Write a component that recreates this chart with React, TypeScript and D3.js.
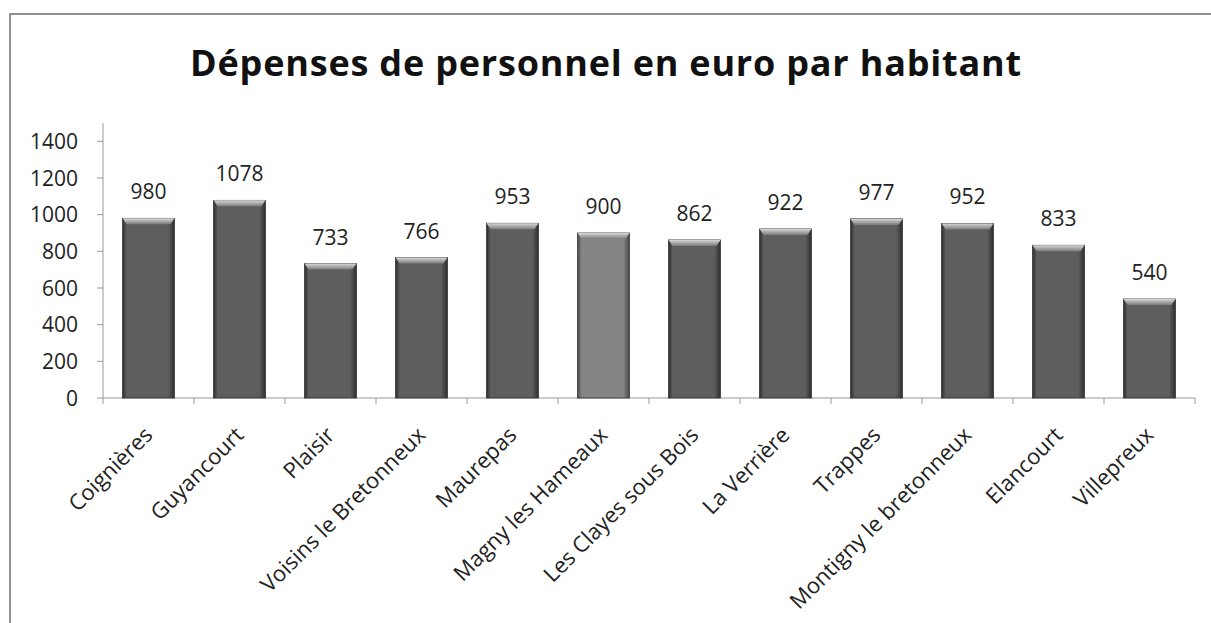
import { useEffect, useRef } from 'react';
import * as d3 from 'd3';

const communes = [
  'Coignières', 'Guyancourt', 'Plaisir', 'Voisins le Bretonneux', 'Maurepas',
  'Magny les Hameaux', 'Les Clayes sous Bois', 'La Verrière', 'Trappes',
  'Montigny le bretonneux', 'Elancourt', 'Villepreux',
];
const depenses = [980, 1078, 733, 766, 953, 900, 862, 922, 977, 952, 833, 540];
const yTicks = [0, 200, 400, 600, 800, 1000, 1200, 1400];
const highlighted = ['Magny les Hameaux'];

const W = 1211;
const H = 623;
const FONT = "'Open Sans', 'DejaVu Sans', sans-serif";

const App = () => {
  const ref = useRef<SVGSVGElement | null>(null);

  useEffect(() => {
    if (!ref.current) return;
    const svg = d3.select(ref.current);
    svg.selectAll('*').remove();

    const margin = { left: 103, right: 16, top: 123, bottom: 225 };
    const innerW = W - margin.left - margin.right;
    const innerH = H - margin.top - margin.bottom;

    const x = d3.scaleBand<string>().domain(communes).range([0, innerW]).paddingInner(0.43).paddingOuter(0.215);
    const y = d3.scaleLinear().domain([0, 1500]).range([innerH, 0]);

    // degrades des barres
    const defs = svg.append('defs');
    const mkGrad = (id: string, edge: string, mid: string) => {
      const g = defs.append('linearGradient').attr('id', id).attr('x1', 0).attr('x2', 1).attr('y1', 0).attr('y2', 0);
      g.append('stop').attr('offset', '0%').attr('stop-color', edge);
      g.append('stop').attr('offset', '8%').attr('stop-color', mid);
      g.append('stop').attr('offset', '88%').attr('stop-color', mid);
      g.append('stop').attr('offset', '100%').attr('stop-color', edge);
    };
    mkGrad('barDark', '#2e2e2e', '#5e5e5e');
    mkGrad('barLight', '#4a4a4a', '#858585');
    const top = defs.append('linearGradient').attr('id', 'bevel').attr('x1', 0).attr('x2', 0).attr('y1', 0).attr('y2', 1);
    top.append('stop').attr('offset', '0%').attr('stop-color', '#d8d8d8');
    top.append('stop').attr('offset', '100%').attr('stop-color', '#7a7a7a');

    // cadre
    svg.append('path')
      .attr('d', `M10,${H} L10,14 L${W},14`)
      .attr('fill', 'none').attr('stroke', '#6e6e6e').attr('stroke-width', 1.5);

    svg.append('text')
      .attr('x', 606).attr('y', 76)
      .attr('text-anchor', 'middle')
      .style('font-family', FONT).style('font-weight', 700).style('font-size', '36px')
      .style('letter-spacing', '0.8px')
      .attr('fill', '#111')
      .text('Dépenses de personnel en euro par habitant');

    const g = svg.append('g').attr('transform', `translate(${margin.left},${margin.top})`);

    // axe Y
    g.append('line').attr('x1', 0).attr('x2', 0).attr('y1', 0).attr('y2', innerH).attr('stroke', '#999');
    const yAxis = g.append('g').selectAll('g').data(yTicks).join('g')
      .attr('transform', d => `translate(0,${y(d)})`);
    yAxis.append('line').attr('x1', -6).attr('x2', 0).attr('stroke', '#999');
    yAxis.append('text')
      .attr('x', -25).attr('dy', '0.36em').attr('text-anchor', 'end')
      .style('font-family', FONT).style('font-size', '21px').attr('fill', '#222')
      .text(d => d);

    // axe X
    g.append('line').attr('x1', 0).attr('x2', innerW).attr('y1', innerH).attr('y2', innerH).attr('stroke', '#999');
    const step = x.step();
    const bounds = d3.range(communes.length + 1).map(i => i * step);
    g.selectAll('.xtick').data(bounds).join('line')
      .attr('x1', d => d).attr('x2', d => d).attr('y1', innerH).attr('y2', innerH + 6).attr('stroke', '#999');

    // barres
    const bars = g.selectAll('.bar').data(communes).join('g');
    bars.append('rect')
      .attr('x', d => x(d)!)
      .attr('y', (d, i) => y(depenses[i]))
      .attr('width', x.bandwidth())
      .attr('height', (d, i) => innerH - y(depenses[i]))
      .attr('fill', d => highlighted.includes(d) ? 'url(#barLight)' : 'url(#barDark)')
      .attr('stroke', '#333').attr('stroke-width', 0.8);
    bars.append('path')
      .attr('d', (d, i) => {
        const x0 = x(d)!;
        const x1 = x0 + x.bandwidth();
        const y0 = y(depenses[i]);
        return `M${x0},${y0} L${x1},${y0} L${x1 - 4},${y0 + 6} L${x0 + 4},${y0 + 6} Z`;
      })
      .attr('fill', 'url(#bevel)');

    // valeurs
    g.selectAll('.val').data(communes).join('text')
      .attr('x', d => x(d)! + x.bandwidth() / 2)
      .attr('y', (d, i) => y(depenses[i]) - 19)
      .attr('text-anchor', 'middle')
      .style('font-family', FONT).style('font-size', '21px').attr('fill', '#222')
      .text((d, i) => depenses[i]);

    // etiquettes categories
    g.selectAll('.cat').data(communes).join('text')
      .attr('transform', d => `translate(${x(d)! + x.bandwidth() / 2},${innerH + 33}) rotate(-45)`)
      .attr('text-anchor', 'end')
      .attr('dy', '0.35em')
      .style('font-family', FONT).style('font-size', '22px').attr('fill', '#222')
      .text(d => d);
  }, []);

  return <svg ref={ref} width={W} height={H} style={{ display: 'block', position: 'absolute', left: 0, top: 0, background: '#fff' }} />;
};

export default App;
